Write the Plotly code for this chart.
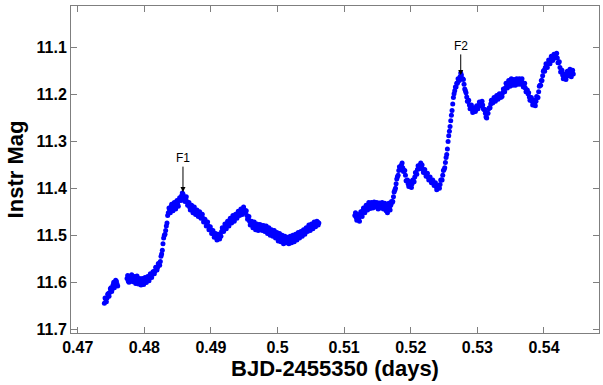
import plotly.graph_objects as go

# ---- data ----
# segment 1
t_seg1 = [0.4740, 0.4742, 0.4744, 0.4746, 0.4748, 0.4750, 0.4752, 0.4754, 0.4756, 0.4758, 0.4760]
m_seg1 = [11.645, 11.636, 11.634, 11.624, 11.622, 11.612, 11.614, 11.600, 11.606, 11.598, 11.608]
t_seg1b = [0.4741, 0.4743, 0.4745, 0.4747, 0.4749, 0.4751, 0.4753, 0.4755, 0.4757, 0.4759]
m_seg1b = [11.634, 11.642, 11.626, 11.630, 11.614, 11.620, 11.606, 11.612, 11.596, 11.604]

# segment 2
t_seg2 = [
    0.4774, 0.4776, 0.4778, 0.4780, 0.4782, 0.4784, 0.4786, 0.4788, 0.4790, 0.4792,
    0.4794, 0.4796, 0.4798, 0.4800, 0.4802, 0.4804, 0.4806, 0.4808, 0.4810, 0.4812,
    0.4814, 0.4816, 0.4818, 0.4820, 0.4822, 0.4824, 0.4826, 0.4828, 0.4830, 0.4832,
    0.4834, 0.4836, 0.4838, 0.4840, 0.4842, 0.4844, 0.4846, 0.4848, 0.4850, 0.4852,
    0.4854, 0.4856, 0.4858, 0.4860, 0.4862, 0.4864, 0.4866, 0.4868, 0.4870, 0.4872,
    0.4874, 0.4876, 0.4878, 0.4880, 0.4882, 0.4884, 0.4886, 0.4888, 0.4890, 0.4892,
    0.4894, 0.4896, 0.4898, 0.4900, 0.4902, 0.4904, 0.4906, 0.4908, 0.4910, 0.4912,
    0.4914, 0.4916, 0.4918, 0.4920, 0.4922, 0.4924, 0.4926, 0.4928, 0.4930, 0.4932,
    0.4934, 0.4936, 0.4938, 0.4940, 0.4942, 0.4944, 0.4946, 0.4948, 0.4950, 0.4952,
    0.4954, 0.4956, 0.4958, 0.4960, 0.4962, 0.4964, 0.4966, 0.4968, 0.4970, 0.4972,
    0.4974, 0.4976, 0.4978, 0.4980, 0.4982, 0.4984, 0.4986, 0.4988, 0.4990, 0.4992,
    0.4994, 0.4996, 0.4998, 0.5000, 0.5002, 0.5004, 0.5006, 0.5008, 0.5010, 0.5012,
    0.5014, 0.5016, 0.5018, 0.5020, 0.5022, 0.5024, 0.5026, 0.5028, 0.5030, 0.5032,
    0.5034, 0.5036, 0.5038, 0.5040, 0.5042, 0.5044, 0.5046, 0.5048, 0.5050, 0.5052,
    0.5054, 0.5056, 0.5058, 0.5060, 0.5062,
]
m_seg2 = [
    11.592, 11.598, 11.588, 11.594, 11.590, 11.596, 11.591, 11.598, 11.594, 11.600,
    11.596, 11.602, 11.598, 11.601, 11.595, 11.596, 11.590, 11.590, 11.584, 11.583,
    11.578, 11.576, 11.570, 11.568, 11.562, 11.556, 11.540, 11.518, 11.500, 11.490,
    11.474, 11.452, 11.448, 11.440, 11.445, 11.436, 11.440, 11.432, 11.434, 11.426,
    11.424, 11.416, 11.412, 11.418, 11.422, 11.428, 11.434, 11.440, 11.438, 11.446,
    11.444, 11.450, 11.452, 11.456, 11.454, 11.460, 11.458, 11.464, 11.470, 11.472,
    11.478, 11.480, 11.486, 11.488, 11.494, 11.498, 11.500, 11.504, 11.506, 11.502,
    11.500, 11.492, 11.488, 11.484, 11.480, 11.478, 11.474, 11.472, 11.468, 11.466,
    11.462, 11.464, 11.458, 11.456, 11.454, 11.450, 11.452, 11.448, 11.445, 11.450,
    11.458, 11.464, 11.470, 11.474, 11.478, 11.476, 11.482, 11.480, 11.484, 11.480,
    11.486, 11.482, 11.484, 11.486, 11.484, 11.490, 11.488, 11.492, 11.494, 11.496,
    11.494, 11.500, 11.498, 11.502, 11.504, 11.500, 11.508, 11.504, 11.510, 11.506,
    11.512, 11.508, 11.512, 11.506, 11.510, 11.504, 11.508, 11.502, 11.504, 11.498,
    11.500, 11.496, 11.494, 11.492, 11.490, 11.488, 11.484, 11.486, 11.480, 11.482,
    11.478, 11.476, 11.478, 11.472, 11.474,
]
t_seg2b = [
    0.4775, 0.4777, 0.4779, 0.4781, 0.4783, 0.4785, 0.4787, 0.4789, 0.4791, 0.4793,
    0.4795, 0.4797, 0.4799, 0.4801, 0.4803, 0.4805, 0.4807, 0.4809, 0.4811, 0.4813,
    0.4815, 0.4817, 0.4819, 0.4821, 0.4823, 0.4825, 0.4827, 0.4829, 0.4831, 0.4833,
    0.4835, 0.4837, 0.4839, 0.4841, 0.4843, 0.4845, 0.4847, 0.4849, 0.4851, 0.4853,
    0.4855, 0.4857, 0.4859, 0.4861, 0.4863, 0.4865, 0.4867, 0.4869, 0.4871, 0.4873,
    0.4875, 0.4877, 0.4879, 0.4881, 0.4883, 0.4885, 0.4887, 0.4889, 0.4891, 0.4893,
    0.4895, 0.4897, 0.4899, 0.4901, 0.4903, 0.4905, 0.4907, 0.4909, 0.4911, 0.4913,
    0.4915, 0.4917, 0.4919, 0.4921, 0.4923, 0.4925, 0.4927, 0.4929, 0.4931, 0.4933,
    0.4935, 0.4937, 0.4939, 0.4941, 0.4943, 0.4945, 0.4947, 0.4949, 0.4951, 0.4953,
    0.4955, 0.4957, 0.4959, 0.4961, 0.4963, 0.4965, 0.4967, 0.4969, 0.4971, 0.4973,
    0.4975, 0.4977, 0.4979, 0.4981, 0.4983, 0.4985, 0.4987, 0.4989, 0.4991, 0.4993,
    0.4995, 0.4997, 0.4999, 0.5001, 0.5003, 0.5005, 0.5007, 0.5009, 0.5011, 0.5013,
    0.5015, 0.5017, 0.5019, 0.5021, 0.5023, 0.5025, 0.5027, 0.5029, 0.5031, 0.5033,
    0.5035, 0.5037, 0.5039, 0.5041, 0.5043, 0.5045, 0.5047, 0.5049, 0.5051, 0.5053,
    0.5055, 0.5057, 0.5059, 0.5061,
]
m_seg2b = [
    11.586, 11.600, 11.590, 11.584, 11.599, 11.588, 11.603, 11.587, 11.604, 11.592,
    11.606, 11.592, 11.605, 11.590, 11.601, 11.588, 11.597, 11.582, 11.590, 11.578,
    11.582, 11.568, 11.574, 11.560, 11.564, 11.545, 11.532, 11.506, 11.498, 11.480,
    11.458, 11.442, 11.452, 11.434, 11.448, 11.430, 11.444, 11.426, 11.438, 11.420,
    11.426, 11.410, 11.420, 11.428, 11.418, 11.436, 11.430, 11.446, 11.436, 11.452,
    11.440, 11.456, 11.446, 11.460, 11.450, 11.464, 11.455, 11.472, 11.466, 11.480,
    11.472, 11.488, 11.482, 11.496, 11.490, 11.504, 11.496, 11.510, 11.498, 11.508,
    11.502, 11.484, 11.492, 11.476, 11.486, 11.470, 11.480, 11.464, 11.474, 11.458,
    11.470, 11.455, 11.464, 11.449, 11.458, 11.444, 11.456, 11.440, 11.452, 11.448,
    11.466, 11.460, 11.478, 11.470, 11.484, 11.472, 11.488, 11.476, 11.490, 11.477,
    11.478, 11.490, 11.479, 11.492, 11.480, 11.496, 11.484, 11.500, 11.488, 11.502,
    11.490, 11.506, 11.494, 11.512, 11.496, 11.514, 11.500, 11.518, 11.502, 11.516,
    11.504, 11.518, 11.502, 11.516, 11.500, 11.514, 11.498, 11.510, 11.494, 11.506,
    11.492, 11.502, 11.488, 11.498, 11.484, 11.492, 11.478, 11.490, 11.476, 11.486,
    11.472, 11.482, 11.470, 11.478,
]

# segment 3
t_seg3 = [
    0.5116, 0.5118, 0.5120, 0.5122, 0.5124, 0.5126, 0.5128, 0.5130, 0.5132, 0.5134,
    0.5136, 0.5138, 0.5140, 0.5142, 0.5144, 0.5146, 0.5148, 0.5150, 0.5152, 0.5154,
    0.5156, 0.5158, 0.5160, 0.5162, 0.5164, 0.5166, 0.5168, 0.5170, 0.5172, 0.5174,
    0.5176, 0.5178, 0.5180, 0.5182, 0.5184, 0.5186, 0.5188, 0.5190, 0.5192, 0.5194,
    0.5196, 0.5198, 0.5200, 0.5202, 0.5204, 0.5206, 0.5208, 0.5210, 0.5212, 0.5214,
    0.5216, 0.5218, 0.5220, 0.5222, 0.5224, 0.5226, 0.5228, 0.5230, 0.5232, 0.5234,
    0.5236, 0.5238, 0.5240, 0.5242, 0.5244, 0.5246, 0.5248, 0.5250, 0.5252, 0.5254,
    0.5256, 0.5258, 0.5260, 0.5262, 0.5264, 0.5266, 0.5268, 0.5270, 0.5272, 0.5274,
    0.5276, 0.5278, 0.5280, 0.5282, 0.5284, 0.5286, 0.5288, 0.5290, 0.5292, 0.5294,
    0.5296, 0.5298, 0.5300, 0.5302, 0.5304, 0.5306, 0.5308, 0.5310, 0.5312, 0.5314,
    0.5316, 0.5318, 0.5320, 0.5322, 0.5324, 0.5326, 0.5328, 0.5330, 0.5332, 0.5334,
    0.5336, 0.5338, 0.5340, 0.5342, 0.5344, 0.5346, 0.5348, 0.5350, 0.5352, 0.5354,
    0.5356, 0.5358, 0.5360, 0.5362, 0.5364, 0.5366, 0.5368, 0.5370, 0.5372, 0.5374,
    0.5376, 0.5378, 0.5380, 0.5382, 0.5384, 0.5386, 0.5388, 0.5390, 0.5392, 0.5394,
    0.5396, 0.5398, 0.5400, 0.5402, 0.5404, 0.5406, 0.5408, 0.5410, 0.5412, 0.5414,
    0.5416, 0.5418, 0.5420, 0.5422, 0.5424, 0.5426, 0.5428, 0.5430, 0.5432, 0.5434,
    0.5436, 0.5438, 0.5440, 0.5442, 0.5444,
]
m_seg3 = [
    11.458, 11.462, 11.460, 11.464, 11.458, 11.452, 11.448, 11.444, 11.442, 11.440,
    11.440, 11.436, 11.438, 11.434, 11.437, 11.433, 11.436, 11.434, 11.438, 11.435,
    11.437, 11.434, 11.440, 11.438, 11.446, 11.436, 11.440, 11.436, 11.430, 11.418,
    11.404, 11.390, 11.375, 11.362, 11.355, 11.350, 11.356, 11.362, 11.372, 11.384,
    11.390, 11.392, 11.394, 11.390, 11.384, 11.376, 11.368, 11.360, 11.354, 11.350,
    11.354, 11.360, 11.364, 11.368, 11.372, 11.376, 11.380, 11.382, 11.385, 11.388,
    11.392, 11.396, 11.400, 11.398, 11.392, 11.382, 11.372, 11.360, 11.345, 11.328,
    11.300, 11.278, 11.256, 11.234, 11.206, 11.192, 11.184, 11.176, 11.168, 11.162,
    11.158, 11.166, 11.178, 11.192, 11.205, 11.214, 11.222, 11.226, 11.232, 11.234,
    11.230, 11.232, 11.227, 11.224, 11.220, 11.218, 11.222, 11.232, 11.240, 11.250,
    11.240, 11.228, 11.220, 11.214, 11.212, 11.210, 11.208, 11.206, 11.204, 11.202,
    11.200, 11.196, 11.190, 11.186, 11.182, 11.178, 11.176, 11.174, 11.172, 11.174,
    11.172, 11.176, 11.170, 11.174, 11.172, 11.170, 11.176, 11.180, 11.186, 11.192,
    11.198, 11.205, 11.210, 11.214, 11.218, 11.220, 11.214, 11.206, 11.194, 11.180,
    11.170, 11.160, 11.148, 11.142, 11.138, 11.134, 11.130, 11.126, 11.122, 11.120,
    11.118, 11.114, 11.122, 11.132, 11.142, 11.150, 11.158, 11.162, 11.164, 11.160,
    11.154, 11.150, 11.156, 11.152, 11.156,
]
t_seg3b = [
    0.5117, 0.5119, 0.5121, 0.5123, 0.5125, 0.5127, 0.5129, 0.5131, 0.5133, 0.5135,
    0.5137, 0.5139, 0.5141, 0.5143, 0.5145, 0.5147, 0.5149, 0.5151, 0.5153, 0.5155,
    0.5157, 0.5159, 0.5161, 0.5163, 0.5165, 0.5167, 0.5169, 0.5171, 0.5173, 0.5175,
    0.5177, 0.5179, 0.5181, 0.5183, 0.5185, 0.5187, 0.5189, 0.5191, 0.5193, 0.5195,
    0.5197, 0.5199, 0.5201, 0.5203, 0.5205, 0.5207, 0.5209, 0.5211, 0.5213, 0.5215,
    0.5217, 0.5219, 0.5221, 0.5223, 0.5225, 0.5227, 0.5229, 0.5231, 0.5233, 0.5235,
    0.5237, 0.5239, 0.5241, 0.5243, 0.5245, 0.5247, 0.5249, 0.5251, 0.5253, 0.5255,
    0.5257, 0.5259, 0.5261, 0.5263, 0.5265, 0.5267, 0.5269, 0.5271, 0.5273, 0.5275,
    0.5277, 0.5279, 0.5281, 0.5283, 0.5285, 0.5287, 0.5289, 0.5291, 0.5293, 0.5295,
    0.5297, 0.5299, 0.5301, 0.5303, 0.5305, 0.5307, 0.5309, 0.5311, 0.5313, 0.5315,
    0.5317, 0.5319, 0.5321, 0.5323, 0.5325, 0.5327, 0.5329, 0.5331, 0.5333, 0.5335,
    0.5337, 0.5339, 0.5341, 0.5343, 0.5345, 0.5347, 0.5349, 0.5351, 0.5353, 0.5355,
    0.5357, 0.5359, 0.5361, 0.5363, 0.5365, 0.5367, 0.5369, 0.5371, 0.5373, 0.5375,
    0.5377, 0.5379, 0.5381, 0.5383, 0.5385, 0.5387, 0.5389, 0.5391, 0.5393, 0.5395,
    0.5397, 0.5399, 0.5401, 0.5403, 0.5405, 0.5407, 0.5409, 0.5411, 0.5413, 0.5415,
    0.5417, 0.5419, 0.5421, 0.5423, 0.5425, 0.5427, 0.5429, 0.5431, 0.5433, 0.5435,
    0.5437, 0.5439, 0.5441, 0.5443,
]
m_seg3b = [
    11.452, 11.468, 11.456, 11.470, 11.450, 11.460, 11.442, 11.452, 11.436, 11.446,
    11.430, 11.443, 11.430, 11.442, 11.429, 11.440, 11.430, 11.444, 11.431, 11.442,
    11.430, 11.444, 11.432, 11.448, 11.452, 11.432, 11.446, 11.428, 11.428, 11.408,
    11.400, 11.380, 11.372, 11.354, 11.358, 11.346, 11.364, 11.362, 11.384, 11.382,
    11.396, 11.386, 11.398, 11.382, 11.386, 11.366, 11.370, 11.352, 11.358, 11.346,
    11.350, 11.366, 11.360, 11.374, 11.368, 11.382, 11.376, 11.388, 11.382, 11.394,
    11.388, 11.403, 11.394, 11.400, 11.382, 11.382, 11.362, 11.356, 11.334, 11.316,
    11.288, 11.268, 11.244, 11.220, 11.198, 11.184, 11.176, 11.166, 11.170, 11.154,
    11.166, 11.168, 11.188, 11.196, 11.214, 11.212, 11.230, 11.222, 11.238, 11.228,
    11.236, 11.224, 11.230, 11.216, 11.224, 11.214, 11.230, 11.232, 11.248, 11.240,
    11.230, 11.228, 11.212, 11.218, 11.206, 11.214, 11.202, 11.210, 11.198, 11.206,
    11.204, 11.188, 11.194, 11.176, 11.186, 11.170, 11.182, 11.166, 11.180, 11.168,
    11.180, 11.166, 11.178, 11.166, 11.178, 11.166, 11.184, 11.176, 11.194, 11.190,
    11.196, 11.212, 11.206, 11.222, 11.212, 11.224, 11.204, 11.206, 11.182, 11.180,
    11.170, 11.150, 11.150, 11.134, 11.142, 11.126, 11.134, 11.118, 11.127, 11.114,
    11.122, 11.112, 11.132, 11.130, 11.152, 11.148, 11.166, 11.156, 11.168, 11.150,
    11.160, 11.146, 11.162, 11.148,
]

flare_labels = ["F1", "F2"]
flare_times = [0.4858, 0.5275]
flare_mags = [11.408, 11.158]

x_ticks = [0.47, 0.48, 0.49, 0.50, 0.51, 0.52, 0.53, 0.54]
x_tick_text = ["0.47", "0.48", "0.49", "0.5", "0.51", "0.52", "0.53", "0.54"]
y_ticks = [11.1, 11.2, 11.3, 11.4, 11.5, 11.6, 11.7]
y_tick_text = ["11.1", "11.2", "11.3", "11.4", "11.5", "11.6", "11.7"]

# ---- figure ----
FONT = "Arial, Liberation Sans, sans-serif"
fig = go.Figure()
series = [(t_seg1, m_seg1), (t_seg1b, m_seg1b), (t_seg2, m_seg2), (t_seg2b, m_seg2b),
          (t_seg3, m_seg3), (t_seg3b, m_seg3b)]
for tt, mm in series:
    assert len(tt) == len(mm)
    fig.add_trace(go.Scatter(
        x=tt, y=mm, mode="markers",
        marker=dict(color="#0000FF", size=5, symbol="circle", line=dict(width=0)),
        showlegend=False, hoverinfo="x+y",
    ))

for lab, tx, my in zip(flare_labels, flare_times, flare_mags):
    fig.add_annotation(
        x=tx, y=my, xref="x", yref="y", text=lab,
        showarrow=True, arrowhead=2, arrowsize=1.0, arrowwidth=1, arrowcolor="black",
        ax=0, ay=-34 if lab == "F1" else -29,
        font=dict(family=FONT, size=12, color="black"),
    )

fig.update_layout(
    width=603, height=385,
    margin=dict(l=71, r=4, t=6, b=52),
    paper_bgcolor="white", plot_bgcolor="white",
    font=dict(family=FONT, color="black"),
    xaxis=dict(
        range=[0.46899, 0.54826], tickvals=x_ticks, ticktext=x_tick_text,
        ticks="inside", ticklen=6, tickcolor="#7f7f7f", tickwidth=1,
        showline=True, linecolor="#7f7f7f", linewidth=1, mirror="ticks",
        showgrid=False, zeroline=False,
        tickfont=dict(family=FONT, size=16, color="black", weight="bold"),
        title=dict(text="<b>BJD-2455350 (days)</b>", standoff=3,
                   font=dict(family=FONT, size=22, color="black")),
    ),
    yaxis=dict(
        range=[11.7085, 11.011], tickvals=y_ticks, ticktext=y_tick_text,
        ticks="inside", ticklen=6, tickcolor="#7f7f7f", tickwidth=1,
        showline=True, linecolor="#7f7f7f", linewidth=1, mirror="ticks",
        showgrid=False, zeroline=False,
        tickfont=dict(family=FONT, size=16, color="black", weight="bold"),
        title=dict(text="<b>Instr Mag</b>", standoff=6,
                   font=dict(family=FONT, size=22, color="black")),
    ),
)

fig.write_html("out.html")
